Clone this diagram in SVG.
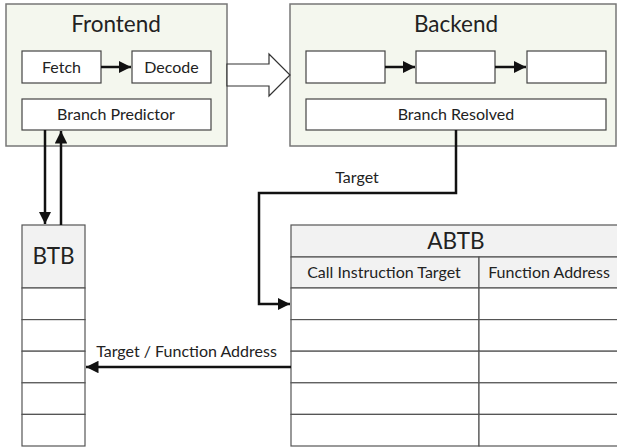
<svg xmlns="http://www.w3.org/2000/svg" width="617" height="448" viewBox="0 0 617 448">
<style>
.stage{fill:#f4f7ee;stroke:#777;stroke-width:1.5}
.box{fill:#fff;stroke:#444;stroke-width:1.2}
.hdr{fill:#f2f2f2;stroke:#555;stroke-width:1.2}
.cell{fill:#fff;stroke:#555;stroke-width:1.2}
.title{font-family:Lato,"Liberation Sans",sans-serif;font-size:22.5px;fill:#222;text-anchor:middle}
.lbl{font-family:Lato,"Liberation Sans",sans-serif;font-size:16px;fill:#222;text-anchor:middle}
.conn{fill:none;stroke:#111;stroke-width:2.5}
</style>
<defs>
<marker id="ah" viewBox="0 0 10 10" refX="10" refY="5" markerWidth="5" markerHeight="5" markerUnits="strokeWidth" orient="auto">
<path d="M0,0 L10,5 L0,10 z" fill="#111"/>
</marker>
</defs>
<rect x="0" y="0" width="617" height="448" fill="#fff"/>
<g id="frontend">
<rect class="stage" x="6" y="4" width="221" height="142"/>
<text class="title" x="116" y="32">Frontend</text>
</g>
<g id="fetch">
<rect class="box" x="22" y="51" width="79" height="32"/>
<text class="lbl" x="61.5" y="72.5">Fetch</text>
</g>
<g id="decode">
<rect class="box" x="132" y="51" width="79" height="32"/>
<text class="lbl" x="171.5" y="72.5">Decode</text>
</g>
<g id="branch-predictor">
<rect class="box" x="22" y="99" width="189" height="31"/>
<text class="lbl" x="116" y="120">Branch Predictor</text>
</g>
<g id="backend">
<rect class="stage" x="290" y="4" width="326" height="142"/>
<text class="title" x="456" y="32">Backend</text>
</g>
<g id="stage1"><rect class="box" x="306" y="51" width="79" height="32"/></g>
<g id="stage2"><rect class="box" x="416" y="51" width="79" height="32"/></g>
<g id="stage3"><rect class="box" x="527" y="51" width="79" height="32"/></g>
<g id="branch-resolved">
<rect class="box" x="306" y="99" width="300" height="31"/>
<text class="lbl" x="456" y="120">Branch Resolved</text>
</g>
<g id="btb">
<rect class="hdr" x="22" y="225" width="63" height="63"/>
<text class="title" x="53.5" y="264">BTB</text>
<rect class="cell" x="22" y="288" width="63" height="31.6"/>
<rect class="cell" x="22" y="319.6" width="63" height="31.6"/>
<rect class="cell" x="22" y="351.2" width="63" height="31.6"/>
<rect class="cell" x="22" y="382.8" width="63" height="31.6"/>
<rect class="cell" x="22" y="414.4" width="63" height="31.6"/>
</g>
<g id="abtb">
<rect class="hdr" x="291" y="225" width="330" height="32"/>
<text class="title" x="456" y="249">ABTB</text>
<rect class="hdr" x="291" y="257" width="188" height="31"/>
<rect class="hdr" x="479" y="257" width="142" height="31"/>
<text class="lbl" x="384" y="278">Call Instruction Target</text>
<text class="lbl" x="549" y="278">Function Address</text>
<rect class="cell" x="291" y="288" width="188" height="31.6"/>
<rect class="cell" x="479" y="288" width="142" height="31.6"/>
<rect class="cell" x="291" y="319.6" width="188" height="31.6"/>
<rect class="cell" x="479" y="319.6" width="142" height="31.6"/>
<rect class="cell" x="291" y="351.2" width="188" height="31.6"/>
<rect class="cell" x="479" y="351.2" width="142" height="31.6"/>
<rect class="cell" x="291" y="382.8" width="188" height="31.6"/>
<rect class="cell" x="479" y="382.8" width="142" height="31.6"/>
<rect class="cell" x="291" y="414.4" width="188" height="31.6"/>
<rect class="cell" x="479" y="414.4" width="142" height="31.6"/>
</g>
<g id="connectors">
<polygon points="227,64 269,64 269,54 290,75 269,96 269,86 227,86" fill="#fff" stroke="#333" stroke-width="1.2"/>
<line class="conn" x1="101" y1="67" x2="131" y2="67" marker-end="url(#ah)"/>
<line class="conn" x1="385" y1="67" x2="415" y2="67" marker-end="url(#ah)"/>
<line class="conn" x1="495" y1="67" x2="526" y2="67" marker-end="url(#ah)"/>
<line class="conn" x1="45" y1="130" x2="45" y2="224" marker-end="url(#ah)"/>
<line class="conn" x1="61" y1="225" x2="61" y2="131" marker-end="url(#ah)"/>
<polyline class="conn" points="456,130 456,193 259,193 259,304 290,304" marker-end="url(#ah)"/>
<text class="lbl" x="357" y="183">Target</text>
<line class="conn" x1="291" y1="367" x2="86" y2="367" marker-end="url(#ah)"/>
<text class="lbl" x="186.5" y="357">Target / Function Address</text>
</g>
</svg>
